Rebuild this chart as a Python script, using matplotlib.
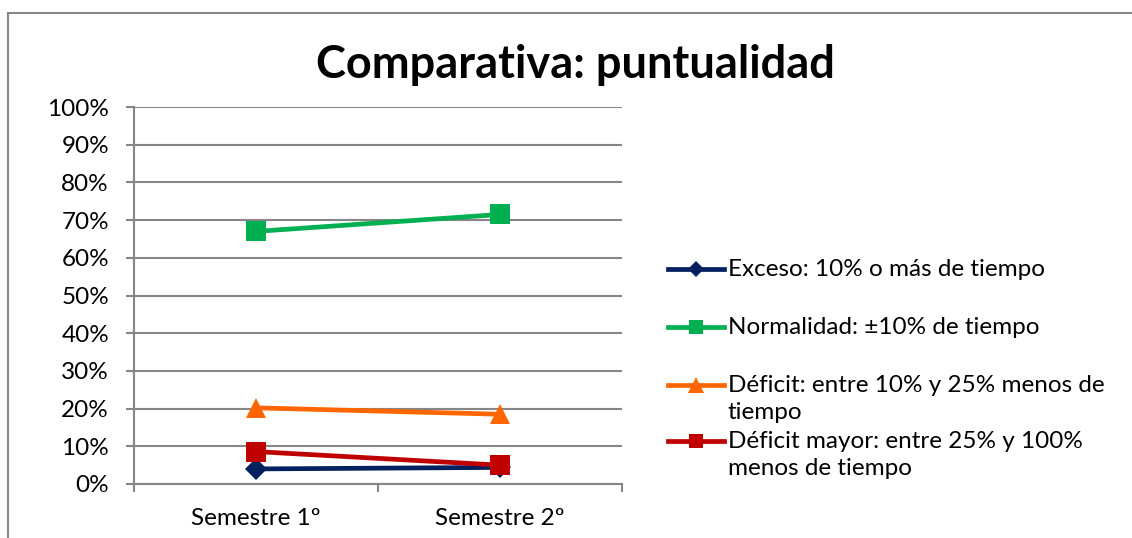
import matplotlib
matplotlib.use("Agg")
import matplotlib.pyplot as plt
from matplotlib.lines import Line2D
from matplotlib.patches import Rectangle
from matplotlib.ticker import PercentFormatter, FixedLocator

plt.rcParams['font.family'] = ['Lato', 'DejaVu Sans']

categories = ["Semestre 1º", "Semestre 2º"]
series_names = [
    "Exceso: 10% o más de tiempo",
    "Normalidad: ±10% de tiempo",
    "Déficit: entre 10% y 25% menos de\ntiempo",
    "Déficit mayor: entre 25% y 100%\nmenos de tiempo",
]
exceso = [0.040, 0.044]
normalidad = [0.670, 0.715]
deficit = [0.202, 0.185]
deficit_mayor = [0.086, 0.050]
title = "Comparativa: puntualidad"

colors = ["#002060", "#00B050", "#FF6600", "#C00000"]
markers = ["D", "s", "^", "s"]
msizes = [11, 14, 15, 14]
series = [exceso, normalidad, deficit, deficit_mayor]

W, H = 1132, 538
fig = plt.figure(figsize=(W / 100, H / 100), dpi=100)
fig.patch.set_facecolor("white")

# outer chart frame
fig.add_artist(Rectangle((8 / W, -0.1), 1.2, 1 - 13 / H + 0.1, transform=fig.transFigure,
                         fill=False, edgecolor="#868686", linewidth=1.5))

ax = fig.add_axes([134 / W, 1 - 484 / H, (622 - 134) / W, (484 - 107) / H])
x = list(range(len(categories)))
for i in range(4):
    ax.plot(x, series[i], color=colors[i], linewidth=3.4, marker=markers[i],
            markersize=msizes[i], markeredgewidth=0, zorder=3 + i * 0.1)

ax.set_xlim(-0.5, len(categories) - 0.5)
ax.set_ylim(0, 1)
ax.yaxis.set_major_locator(FixedLocator([i / 10 for i in range(11)]))
ax.yaxis.set_major_formatter(PercentFormatter(1.0, decimals=0))
ax.set_xticks(x)
ax.set_xticklabels(categories)
ax.xaxis.set_minor_locator(FixedLocator([-0.5, 0.5, 1.5]))
ax.tick_params(axis="x", which="major", length=0, pad=17, labelsize=17.5)
ax.tick_params(axis="x", which="minor", length=6, width=1.5, color="#868686", direction="out")
ax.tick_params(axis="y", length=6, width=1.5, color="#868686", pad=12, labelsize=17.5)
ax.grid(axis="y", color="#868686", linewidth=1.5)
ax.set_axisbelow(True)
for s in ["top", "right"]:
    ax.spines[s].set_visible(False)
for s in ["left", "bottom"]:
    ax.spines[s].set_color("#868686")
    ax.spines[s].set_linewidth(1.5)

fig.text(575 / W, 1 - 65 / H, title, ha="center", va="center", fontsize=32.5, fontweight="bold")

# legend
ys = [269, 327, 385, 441]
for i in range(4):
    y = 1 - ys[i] / H
    fig.add_artist(Line2D([668 / W, 724 / W], [y, y], transform=fig.transFigure,
                          color=colors[i], linewidth=3.4))
    fig.add_artist(Line2D([696 / W], [y], transform=fig.transFigure, color=colors[i],
                          marker=markers[i], markersize=msizes[i] * 0.75, markeredgewidth=0))
    fig.text(728 / W, y + 10 / H, series_names[i], ha="left", va="top", fontsize=17.5,
             linespacing=1.33)

fig.savefig("out.png", dpi=100)
